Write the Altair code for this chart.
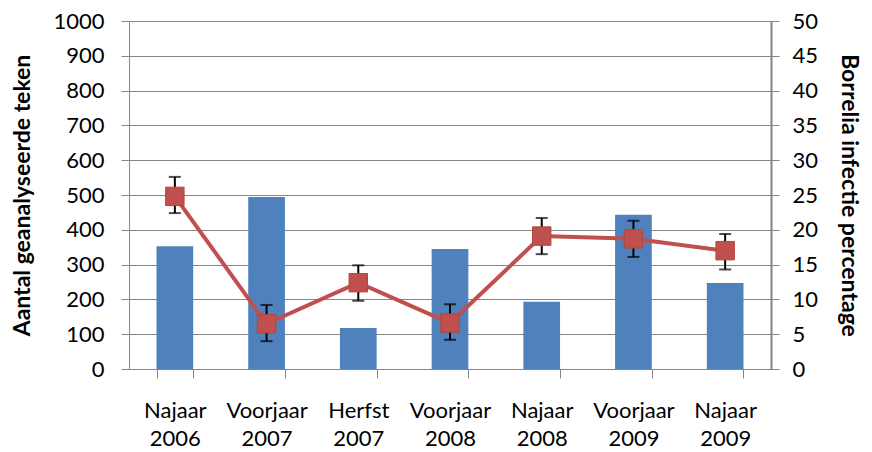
import altair as alt
import pandas as pd

categories = ["Najaar\n2006", "Voorjaar\n2007", "Herfst\n2007", "Voorjaar\n2008",
              "Najaar\n2008", "Voorjaar\n2009", "Najaar\n2009"]
aantal = [353, 494, 118, 345, 193, 443, 247]
percentage = [24.8, 6.5, 12.4, 6.6, 19.1, 18.7, 17.0]
err_low = [22.4, 4.0, 9.8, 4.2, 16.5, 16.1, 14.3]
err_high = [27.6, 9.2, 14.9, 9.3, 21.7, 21.3, 19.4]

df = pd.DataFrame({
    "cat": categories,
    "aantal": aantal,
    "pct": percentage,
    "lo": err_low,
    "hi": err_high,
})

FONT = "Lato"
GRID = "#868686"

xenc = alt.X("cat:N", sort=categories, title=None,
             scale=alt.Scale(paddingInner=0.6, paddingOuter=0.3),
             axis=alt.Axis(labelExpr="split(datum.label, '\\n')", labelAngle=0,
                           tickBand="extent", tickSize=9, tickColor=GRID,
                           domainColor=GRID, labelFont=FONT, labelFontSize=22,
                           labelColor="black", labelPadding=22, labelLineHeight=28,
                           grid=False))

bars = alt.Chart(df).mark_bar(color="#4F81BD").encode(
    x=xenc,
    y=alt.Y("aantal:Q", scale=alt.Scale(domain=[0, 1000]),
            title="Aantal geanalyseerde teken",
            axis=alt.Axis(orient="left", values=list(range(0, 1001, 100)), format="d",
                          grid=True, gridColor=GRID, gridWidth=1,
                          domainColor=GRID, tickColor=GRID, tickSize=8,
                          labelFont=FONT, labelFontSize=22, labelColor="black",
                          labelPadding=17,
                          titleFont=FONT, titleFontSize=23, titleFontWeight="bold",
                          titleColor="black", titlePadding=18)),
)

pct_scale = alt.Scale(domain=[0, 50])
right_axis = alt.Axis(orient="right", values=list(range(0, 51, 5)), format="d",
                      grid=False, domainColor=GRID, domainWidth=2,
                      tickColor=GRID, tickSize=8,
                      labelFont=FONT, labelFontSize=22, labelColor="black",
                      labelPadding=13,
                      titleFont=FONT, titleFontSize=23, titleFontWeight="bold",
                      titleColor="black", titlePadding=19)
RT = "Borrelia infectie percentage"

err_rule = alt.Chart(df).mark_rule(color="black", strokeWidth=2).encode(
    x=alt.X("cat:N", sort=categories),
    y=alt.Y("lo:Q", scale=pct_scale, title=RT, axis=right_axis),
    y2="hi:Q",
)
err_lo_tick = alt.Chart(df).mark_tick(color="black", thickness=2, size=12).encode(
    x=alt.X("cat:N", sort=categories),
    y=alt.Y("lo:Q", scale=pct_scale, title=RT, axis=right_axis),
)
err_hi_tick = alt.Chart(df).mark_tick(color="black", thickness=2, size=12).encode(
    x=alt.X("cat:N", sort=categories),
    y=alt.Y("hi:Q", scale=pct_scale, title=RT, axis=right_axis),
)
line = alt.Chart(df).mark_line(color="#C0504D", strokeWidth=4).encode(
    x=alt.X("cat:N", sort=categories),
    y=alt.Y("pct:Q", scale=pct_scale, title=RT, axis=right_axis),
)
points = alt.Chart(df).mark_point(shape="square", filled=True, size=340,
                                  color="#C0504D", opacity=1,
                                  stroke="#B24542", strokeWidth=1).encode(
    x=alt.X("cat:N", sort=categories),
    y=alt.Y("pct:Q", scale=pct_scale, title=RT, axis=right_axis),
)

right = alt.layer(err_rule, err_lo_tick, err_hi_tick, line, points)

chart = alt.layer(bars, right).resolve_scale(y="independent").properties(
    width=642, height=348,
    autosize=alt.AutoSizeParams(type="none"),
    padding={"left": 121, "top": 13, "right": 93, "bottom": 83},
).configure_view(stroke=None).configure(background="white")

chart.save("out.html", embed_options={"renderer": "svg", "actions": False})
